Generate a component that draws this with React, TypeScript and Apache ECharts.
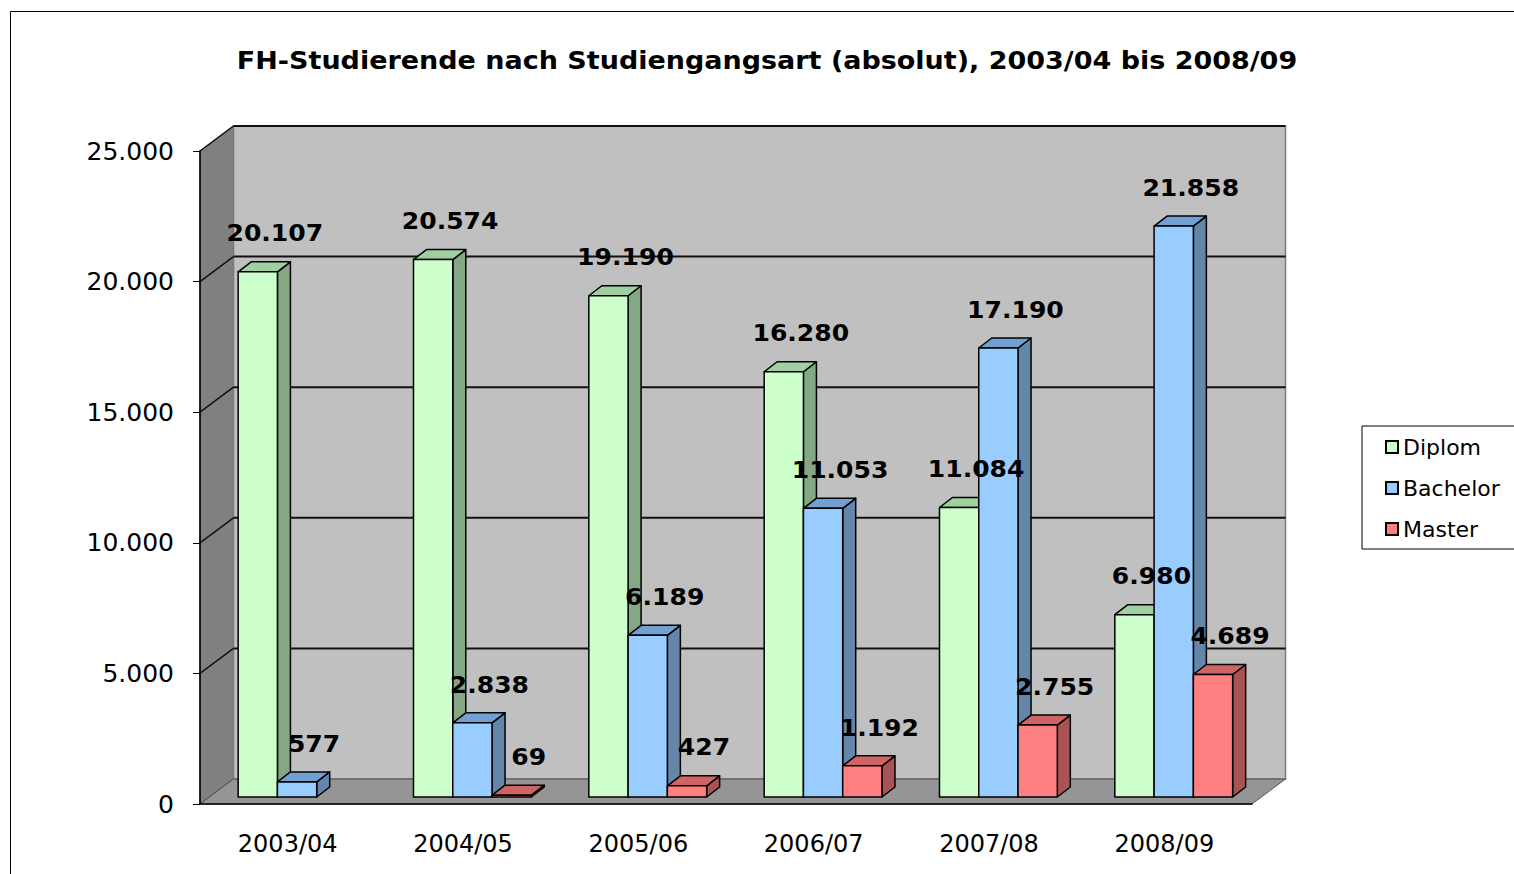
import React, { useEffect, useRef } from "react";
import * as echarts from "echarts";

const title = "FH-Studierende nach Studiengangsart (absolut), 2003/04 bis 2008/09";
const categories = ["2003/04", "2004/05", "2005/06", "2006/07", "2007/08", "2008/09"];
const diplom = [20107, 20574, 19190, 16280, 11084, 6980];
const bachelor = [577, 2838, 6189, 11053, 17190, 21858];
const master: (number | null)[] = [null, 69, 427, 1192, 2755, 4689];
const yTicks = [0, 5000, 10000, 15000, 20000, 25000];
const seriesNames = ["Diplom", "Bachelor", "Master"];

const FONT = "DejaVu Sans";
const palette = [
  { front: "#ccffcc", top: "#a0d0a0", side: "#84a884" },
  { front: "#99ccff", top: "#73a0d2", side: "#6486aa" },
  { front: "#ff8080", top: "#d06464", side: "#a85454" },
];

const WDX = 33.5; // wall depth
const WDY = 25;
const SHIFT_X = 9.4; // bar front offset from front plane
const SHIFT_Y = -7;
const BDX = 13; // bar depth
const BDY = 10;

const fmt = (v: number) => String(v).replace(/\B(?=(\d{3})+(?!\d))/g, ".");

function wallRender(params: any, api: any) {
  const cs = params.coordSys;
  const L = cs.x, R = cs.x + cs.width, T = cs.y, B = cs.y + cs.height;
  const children: any[] = [
    {
      type: "polygon",
      shape: { points: [[L, T], [L + WDX, T - WDY], [L + WDX, B - WDY], [L, B]] },
      style: { fill: "#808080", stroke: "#222", lineWidth: 1 },
    },
    {
      type: "rect",
      shape: { x: L + WDX, y: T - WDY, width: R - L, height: B - T },
      style: { fill: "#c0c0c0", stroke: "#7a7a7a", lineWidth: 1.5 },
    },
    {
      type: "polygon",
      shape: { points: [[L, B], [L + WDX, B - WDY], [R + WDX, B - WDY], [R, B]] },
      style: { fill: "#959595", stroke: "#555", lineWidth: 1 },
    },
  ];
  yTicks.forEach((v) => {
    if (v === 0) return;
    const y = api.coord([0, v])[1];
    children.push({
      type: "line",
      shape: { x1: L + WDX, y1: y - WDY, x2: R + WDX, y2: y - WDY },
      style: { stroke: "#111", lineWidth: 2 },
    });
    children.push({
      type: "line",
      shape: { x1: L, y1: y, x2: L + WDX, y2: y - WDY },
      style: { stroke: "#111", lineWidth: 1.5 },
    });
  });
  return { type: "group", children };
}

function makeBarRender(s: number) {
  const c = palette[s];
  return (params: any, api: any) => {
    const v = api.value(1);
    if (v == null || isNaN(v)) return null;
    const cat = api.value(0);
    const base = api.coord([cat, 0]);
    const topPt = api.coord([cat, v]);
    const band = api.size([1, 0])[0];
    const bw = band * 0.224;
    const x0 = base[0] - 1.5 * bw + s * bw + SHIFT_X;
    const x1 = x0 + bw;
    const yb = base[1] + SHIFT_Y;
    const yt = topPt[1] + SHIFT_Y;
    const border = { stroke: "#000", lineWidth: 1.5, lineJoin: "round" };
    return {
      type: "group",
      children: [
        {
          type: "polygon",
          shape: { points: [[x1, yt], [x1 + BDX, yt - BDY], [x1 + BDX, yb - BDY], [x1, yb]] },
          style: { fill: c.side, ...border },
        },
        {
          type: "polygon",
          shape: { points: [[x0, yt], [x0 + BDX, yt - BDY], [x1 + BDX, yt - BDY], [x1, yt]] },
          style: { fill: c.top, ...border },
        },
        {
          type: "rect",
          shape: { x: x0, y: yt, width: bw, height: yb - yt },
          style: { fill: c.front, ...border },
        },
        {
          type: "text",
          z2: 100,
          x: (x0 + x1) / 2 + 17,
          y: yt - 38,
          scaleX: 1.09,
          style: {
            text: fmt(v),
            fill: "#000",
            font: `bold 23px "${FONT}"`,
            align: "center",
            verticalAlign: "middle",
          },
        },
      ],
    };
  };
}

export default function App() {
  const ref = useRef<HTMLDivElement>(null);
  useEffect(() => {
    if (!ref.current) return;
    const chart = echarts.init(ref.current, null, { renderer: "svg" });
    const valueSets = [diplom, bachelor, master];
    chart.setOption({
      animation: false,
      backgroundColor: "#fff",
      textStyle: { fontFamily: FONT },
      legend: {
        orient: "vertical",
        left: 1362,
        top: 426,
        padding: [10, 40, 9, 23],
        itemGap: 19,
        itemWidth: 12,
        itemHeight: 12,
        borderColor: "#000",
        borderWidth: 1,
        backgroundColor: "#fff",
        icon: "rect",
        textStyle: { fontFamily: FONT, fontSize: 22, color: "#000", padding: [0, 0, 0, 0] },
        data: seriesNames.map((n, i) => ({
          name: n,
          itemStyle: { color: palette[i].front, borderColor: "#000", borderWidth: 2 },
        })),
      },
      graphic: [
        {
          type: "rect",
          silent: true,
          z: -10,
          shape: { x: 10.5, y: 11.5, width: 1600, height: 1000 },
          style: { fill: "none", stroke: "#000", lineWidth: 1 },
        },
        {
          type: "text",
          silent: true,
          x: 767,
          y: 61,
          scaleX: 1.125,
          style: {
            text: title,
            fill: "#000",
            font: `bold 24px "${FONT}"`,
            align: "center",
            verticalAlign: "middle",
          },
        },
      ],
      grid: { left: 200, top: 151, width: 1052, height: 653 },
      xAxis: {
        type: "category",
        data: categories,
        z: 5,
        axisLine: { lineStyle: { color: "#000", width: 1.5 } },
        axisTick: { length: 8, lineStyle: { color: "#000" } },
        axisLabel: { fontFamily: FONT, fontSize: 24, color: "#000", margin: 28 },
      },
      yAxis: {
        type: "value",
        min: 0,
        max: 25000,
        interval: 5000,
        z: 5,
        axisLine: { show: true, lineStyle: { color: "#000", width: 1.5 } },
        axisTick: { show: true, length: 7, lineStyle: { color: "#000" } },
        splitLine: { show: false },
        axisLabel: {
          fontFamily: FONT,
          fontSize: 25,
          color: "#000",
          margin: 26,
          formatter: (v: number) => fmt(v),
        },
      },
      series: [
        {
          type: "custom",
          name: "walls",
          z: 1,
          silent: true,
          renderItem: wallRender,
          data: [[0, 0]],
        },
        ...seriesNames.map((n, s) => ({
          type: "custom",
          name: n,
          z: 3,
          itemStyle: { color: palette[s].front, borderColor: "#000", borderWidth: 2 },
          renderItem: makeBarRender(s),
          data: valueSets[s].map((v, i) => [i, v == null ? "-" : v]),
        })),
      ],
    });
    return () => chart.dispose();
  }, []);
  return (
    <div
      ref={ref}
      style={{ position: "absolute", left: 0, top: 0, width: 1514, height: 874 }}
    />
  );
}
